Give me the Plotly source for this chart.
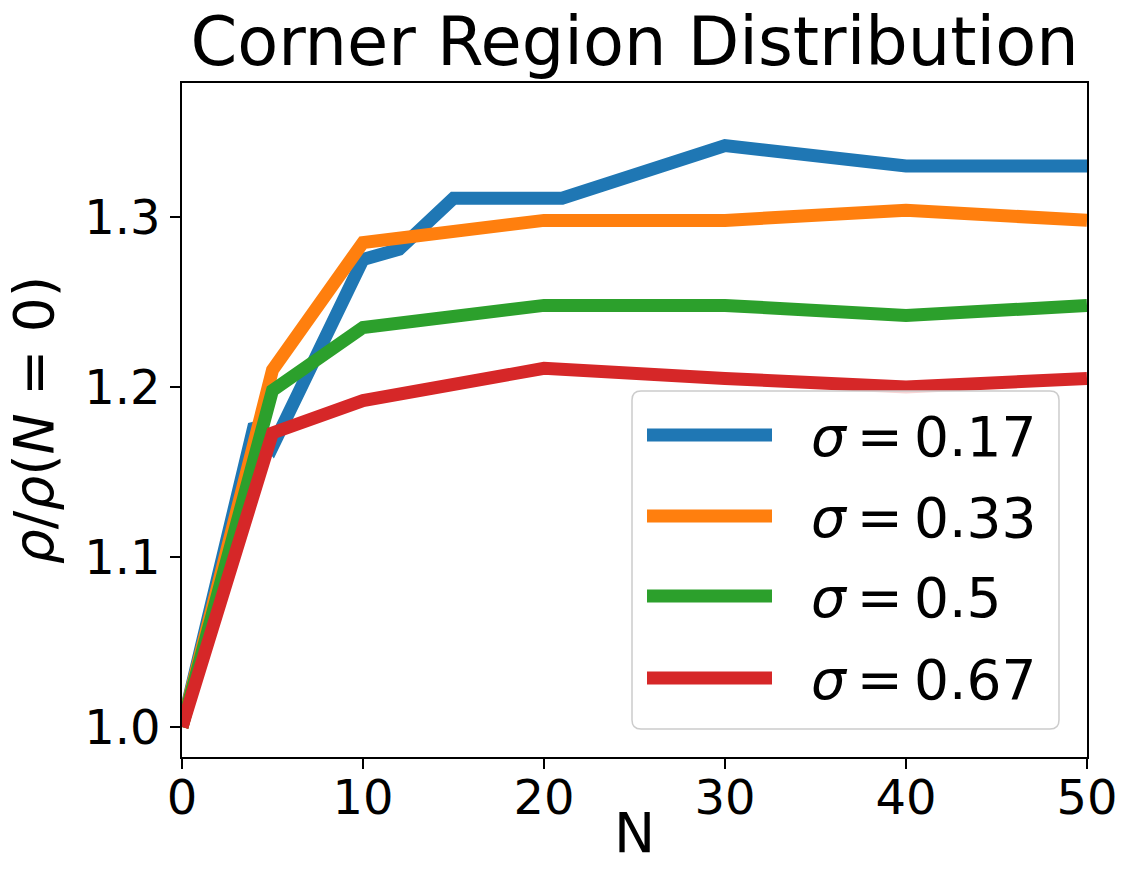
import plotly.graph_objects as go

# ---- data ----
series_names = ["<i>σ</i>\u2009=\u20090.17", "<i>σ</i>\u2009=\u20090.33",
                "<i>σ</i>\u2009=\u20090.5", "<i>σ</i>\u2009=\u20090.67"]
colors = ["#1f77b4", "#ff7f0e", "#2ca02c", "#d62728"]

n_s017 = [0, 2, 4, 5, 10, 12, 15, 21, 30, 40, 50]
v_s017 = [1.0, 1.093, 1.178, 1.165, 1.275, 1.281, 1.311, 1.311, 1.342, 1.330, 1.330]

n_s033 = [0, 5, 10, 20, 30, 40, 50]
v_s033 = [1.0, 1.210, 1.285, 1.298, 1.298, 1.304, 1.298]

n_s050 = [0, 5, 10, 20, 30, 40, 50]
v_s050 = [1.0, 1.198, 1.235, 1.248, 1.248, 1.242, 1.248]

n_s067 = [0, 5, 10, 20, 30, 40, 50]
v_s067 = [1.0, 1.173, 1.192, 1.211, 1.205, 1.200, 1.205]

xs = [n_s017, n_s033, n_s050, n_s067]
ys = [v_s017, v_s033, v_s050, v_s067]

x_ticks = [0, 10, 20, 30, 40, 50]
y_ticks = [1.0, 1.1, 1.2, 1.3]
y_tick_text = ["1.0", "1.1", "1.2", "1.3"]

FONT = "DejaVu Sans"
W, H = 1122, 882
ML, MR, MT, MB = 182, 35, 83, 125
PW, PH = W - ML - MR, H - MT - MB

fig = go.Figure()
for x, y, name, c in zip(xs, ys, series_names, colors):
    fig.add_trace(go.Scatter(x=x, y=y, mode="lines", name=name,
                             line=dict(color=c, width=13), showlegend=False))

def px2paper(px, py):
    return (px - ML) / PW, (H - MB - py) / PH

# ---- legend (matplotlib-style box drawn with shapes) ----
bx0, by0, bx1, by1, r = 632, 391, 1059, 729, 9
def P(px, py):
    a, b = px2paper(px, py)
    return f"{a:.5f},{b:.5f}"
path = (f"M{P(bx0 + r, by0)} L{P(bx1 - r, by0)} Q{P(bx1, by0)} {P(bx1, by0 + r)} "
        f"L{P(bx1, by1 - r)} Q{P(bx1, by1)} {P(bx1 - r, by1)} "
        f"L{P(bx0 + r, by1)} Q{P(bx0, by1)} {P(bx0, by1 - r)} "
        f"L{P(bx0, by0 + r)} Q{P(bx0, by0)} {P(bx0 + r, by0)} Z")
fig.add_shape(type="path", path=path, xref="paper", yref="paper", layer="above",
              fillcolor="rgba(255,255,255,0.8)", line=dict(color="#cccccc", width=1.5))

row_y = [435, 516, 596, 678]
for py, name, c in zip(row_y, series_names, colors):
    xa, ya = px2paper(647, py)
    xb, _ = px2paper(772, py)
    fig.add_shape(type="line", xref="paper", yref="paper", x0=xa, x1=xb, y0=ya, y1=ya,
                  line=dict(color=c, width=13), layer="above")
    xt, yt = px2paper(809, py + 2)
    fig.add_annotation(x=xt, y=yt, xref="paper", yref="paper", text=name,
                       showarrow=False, xanchor="left", yanchor="middle",
                       font=dict(family=FONT, size=55, color="black"))

# x-axis title placed as annotation (tight to tick labels like the reference)
xn, yn = px2paper(ML + PW / 2, 833)
fig.add_annotation(x=xn, y=yn, xref="paper", yref="paper", text="N", showarrow=False,
                   xanchor="center", yanchor="middle", font=dict(family=FONT, size=55, color="black"))

fig.update_layout(
    width=W, height=H,
    margin=dict(l=ML, r=MR, t=MT, b=MB, autoexpand=False),
    paper_bgcolor="white", plot_bgcolor="white",
    font=dict(family=FONT, color="black"),
    title=dict(text="Corner Region Distribution", x=(ML + PW / 2) / W, xanchor="center",
               y=1 - 42 / H, yanchor="middle", yref="container",
               font=dict(family=FONT, size=67, color="black")),
    showlegend=False,
)
fig.update_xaxes(range=[0, 50], tickvals=x_ticks, ticks="outside", ticklen=10, tickwidth=1.5,
                 tickcolor="black", showline=True, linecolor="black", linewidth=1.5, mirror=True,
                 showgrid=False, zeroline=False, tickfont=dict(family=FONT, size=48),
                 ticklabelstandoff=-12, automargin=False)
fig.update_yaxes(range=[0.9824, 1.3788], tickvals=y_ticks, ticktext=y_tick_text, ticks="outside",
                 ticklen=10, tickwidth=1.5, tickcolor="black", showline=True, linecolor="black",
                 linewidth=1.5, mirror=True, showgrid=False, zeroline=False,
                 tickfont=dict(family=FONT, size=48), automargin=False,
                 title=dict(text="<i>ρ</i>/<i>ρ</i>(<i>N</i> = 0)", font=dict(family=FONT, size=55),
                            standoff=13))

fig.write_html("out.html", config={"displayModeBar": False},
               post_script="document.body.style.margin='0';")
